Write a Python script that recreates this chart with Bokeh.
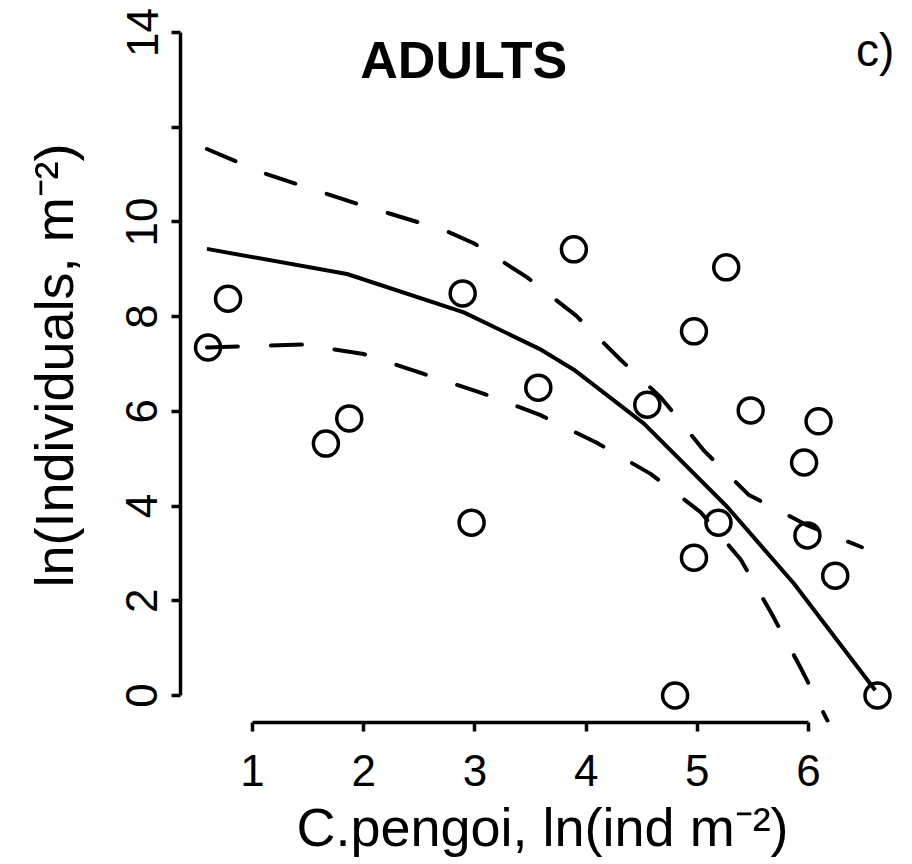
from bokeh.plotting import figure
from bokeh.models import Range1d, FixedTicker, Label
from bokeh.embed import file_html
from bokeh.resources import INLINE

# Observed points (x: C.pengoi ln density, y: ln individuals)
adult_x = [0.60, 0.78, 1.66, 1.87, 2.89, 2.97, 3.57, 3.89, 4.55, 4.97,
           5.26, 5.48, 5.19, 4.97, 4.80, 5.96, 6.09, 5.99, 6.24, 6.62]
adult_y = [7.35, 8.38, 5.32, 5.85, 8.49, 3.65, 6.50, 9.42, 6.14, 7.69,
           9.04, 6.02, 3.65, 2.91, 0.00, 4.92, 5.79, 3.38, 2.53, 0.00]

# Fitted curve
fit_x = [0.59, 1.85, 2.90, 3.58, 3.89, 4.52, 5.27, 5.87, 6.60]
fit_y = [9.43, 8.90, 8.09, 7.32, 6.88, 5.74, 3.98, 2.36, 0.11]

# Confidence band (dashed)
upper_x = [0.59, 1.10, 1.93, 2.72, 2.99, 3.47, 3.91, 4.31, 4.67, 5.06, 5.46, 5.99, 6.48]
upper_y = [11.54, 11.03, 10.39, 9.83, 9.55, 8.83, 8.02, 7.09, 6.30, 5.17, 4.24, 3.59, 3.13]
lower_x = [0.59, 1.45, 2.00, 2.54, 3.07, 3.59, 4.10, 4.58, 5.03, 5.39, 5.67, 5.93, 6.17]
lower_y = [7.35, 7.41, 7.21, 6.79, 6.38, 5.92, 5.33, 4.68, 3.87, 2.87, 1.72, 0.58, -0.53]

x_ticks = [1, 2, 3, 4, 5, 6]
y_ticks = [0, 2, 4, 6, 8, 10, 12, 14]
y_tick_labels = {0: "0", 2: "2", 4: "4", 6: "6", 8: "8", 10: "10", 12: "", 14: "14"}

FONT = "Liberation Sans"

p = figure(width=912, height=864, output_backend="svg", toolbar_location=None,
           x_range=Range1d(0.3525, 6.863), y_range=Range1d(-0.570, 14.506),
           min_border_left=180, min_border_right=8, min_border_top=8,
           min_border_bottom=142)
p.outline_line_color = None
p.xgrid.visible = False
p.ygrid.visible = False
p.background_fill_color = "white"
p.border_fill_color = "white"

p.line(fit_x, fit_y, line_color="black", line_width=4, line_join="round")
p.line(upper_x, upper_y, line_color="black", line_width=4, line_dash="31 33",
       line_cap="round", line_join="round")
p.line(lower_x, lower_y, line_color="black", line_width=4, line_dash="31 33",
       line_cap="round", line_join="round")
p.scatter(adult_x, adult_y, marker="circle", size=25, fill_color=None,
          line_color="black", line_width=3.5)

for ax in (p.xaxis[0], p.yaxis[0]):
    ax.axis_line_width = 3.5
    ax.axis_line_color = "black"
    ax.major_tick_line_width = 3.5
    ax.major_tick_line_color = "black"
    ax.major_tick_in = 0
    ax.major_tick_out = 9
    ax.minor_tick_line_color = None
    ax.major_label_text_font = FONT
    ax.major_label_text_font_size = "44px"
    ax.major_label_text_color = "black"
    ax.axis_label_text_font = FONT
    ax.axis_label_text_font_size = "54px"
    ax.axis_label_text_font_style = "normal"
    ax.axis_label_text_color = "black"

p.xaxis.ticker = FixedTicker(ticks=x_ticks)
p.xaxis.bounds = (1, 6)
p.xaxis.major_label_standoff = 23
p.xaxis.axis_label = "C.pengoi, ln(ind m⁻²)"
p.xaxis.axis_label_standoff = 8

p.yaxis.ticker = FixedTicker(ticks=y_ticks)
p.yaxis.bounds = (0, 14)
p.yaxis.major_label_overrides = y_tick_labels
p.yaxis.major_label_orientation = "vertical"
p.yaxis.major_label_standoff = 14
p.yaxis.axis_label = "ln(Individuals, m⁻²)"
p.yaxis.axis_label_standoff = 40

p.add_layout(Label(x=2.90, y=13.41, text="ADULTS", text_font=FONT,
                   text_font_size="52px", text_font_style="bold",
                   text_align="center", text_baseline="alphabetic",
                   text_color="black"))
p.add_layout(Label(x=6.60, y=13.62, text="c)", text_font=FONT,
                   text_font_size="46px", text_align="center",
                   text_baseline="alphabetic", text_color="black"))

open("out.html", "w").write(file_html(p, INLINE))
